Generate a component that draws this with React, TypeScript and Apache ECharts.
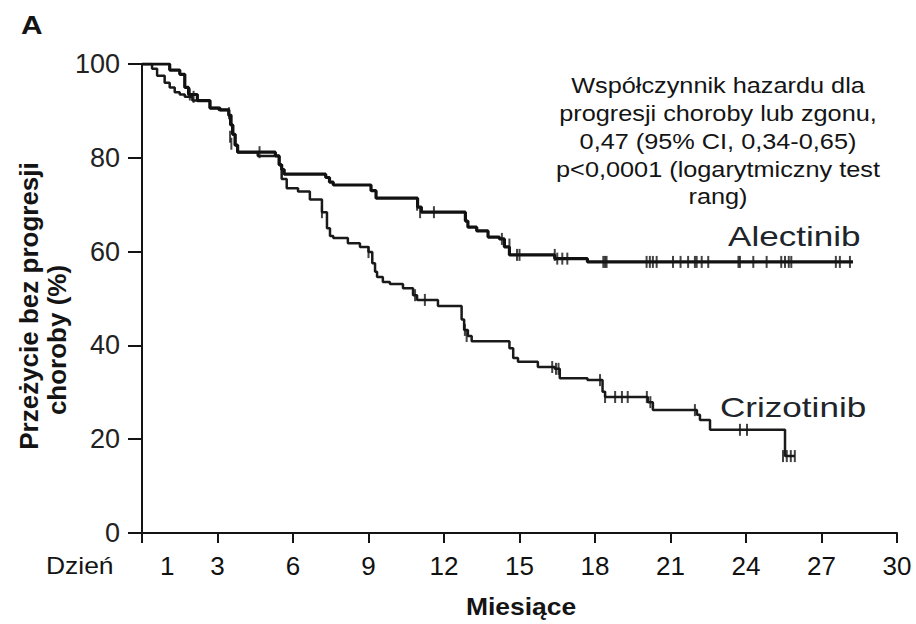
import React, { useEffect, useRef } from 'react';
import * as echarts from 'echarts';

// Kaplan-Meier steps: [month, % progression-free]
const alectinibSteps: [number, number][] = [
  [0, 100], [1.1, 98.7], [1.5, 97.8], [1.7, 95], [1.85, 93.5], [2.2, 92.2], [2.7, 90.6], [3.1, 90.2],
  [3.45, 89], [3.52, 87], [3.6, 85], [3.7, 82.7], [3.8, 81.2], [5.3, 80.4], [5.45, 78.5], [5.55, 77.5],
  [5.65, 76.5], [7.3, 75.8], [7.45, 74.8], [7.6, 74.2], [9.1, 73], [9.3, 71.4], [10.95, 69.5], [11.1, 68.4],
  [12.85, 66.5], [12.95, 65.2], [13.3, 64.4], [13.75, 63.1], [14.2, 62.7], [14.4, 61], [14.6, 59.3],
  [16.4, 58.5], [17.7, 57.8], [28.25, 57.8],
];

const crizotinibSteps: [number, number][] = [
  [0, 100], [0.4, 99], [0.6, 97.5], [0.9, 96], [1.1, 95], [1.3, 94], [1.5, 93.5], [1.7, 93], [2.0, 92.2],
  [2.7, 90.6], [3.05, 90.2], [3.45, 89.1], [3.55, 87], [3.62, 85], [3.7, 82.7], [3.8, 81.2], [4.6, 80.4],
  [5.45, 78.5], [5.55, 75.5], [5.75, 73.5], [6.2, 72.8], [6.67, 71.1], [7.15, 68.4], [7.35, 65], [7.47, 63.3],
  [7.6, 62.9], [8.18, 61.8], [8.66, 61], [9.0, 59.9], [9.15, 57.5], [9.26, 55.7], [9.34, 54.6], [9.57, 53.5],
  [9.85, 53.1], [10.37, 52.2], [10.77, 50.7], [10.93, 49.7], [11.76, 48.4], [12.7, 45.5], [12.8, 43.3],
  [12.95, 42], [13.1, 40.9], [14.6, 39.4], [14.75, 37.3], [14.94, 36.5], [15.73, 35.4], [16.4, 35],
  [16.6, 33], [17.7, 32.6], [18.3, 30.1], [18.4, 29], [20.1, 27.9], [20.3, 26.2], [22.05, 25.2],
  [22.17, 24.1], [22.57, 22], [25.55, 16.4], [25.94, 16.4],
];

const alectinibCensored: [number, number][] = [
  [1.7, 96.5], [1.9, 93.5], [2.05, 93], [3.46, 89.5], [3.5, 84.5], [3.55, 83], [4.67, 81.2],
  [10.93, 70], [11.05, 68.4], [11.6, 68.4], [14.3, 62.7], [14.6, 61.5], [14.9, 59.3], [15.0, 59.3],
  [16.4, 59.3], [16.5, 58.5], [16.7, 58.5], [16.9, 58.5], [18.33, 57.8], [18.4, 57.8], [18.46, 57.8],
  [20.05, 57.8], [20.18, 57.8], [20.3, 57.8], [20.45, 57.8], [21.1, 57.8], [21.4, 57.8], [21.7, 57.8],
  [21.97, 57.8], [22.04, 57.8], [22.24, 57.8], [22.5, 57.8], [23.7, 57.8], [23.76, 57.8], [24.29, 57.8],
  [24.82, 57.8], [25.4, 57.8], [25.55, 57.8], [25.7, 57.8], [25.8, 57.8], [27.57, 57.8], [27.73, 57.8],
  [28.13, 57.8],
];

const crizotinibCensored: [number, number][] = [
  [7.15, 68.4], [9.0, 59.9], [10.85, 50.7], [11.24, 49.7], [12.83, 43.3], [12.9, 42], [16.3, 35.4],
  [16.45, 35], [16.55, 35], [18.2, 32.6], [18.4, 29], [18.8, 29], [19.07, 29], [19.3, 29], [20.06, 29],
  [20.2, 27.9], [21.97, 26.2], [23.76, 22], [24.04, 22], [25.47, 16.4], [25.62, 16.4], [25.78, 16.4],
  [25.94, 16.4],
];

const xTickValues = [0, 3, 6, 9, 12, 15, 18, 21, 24, 27, 30];
const xLabelValues = [1, 3, 6, 9, 12, 15, 18, 21, 24, 27, 30];
const yTickStep = 20;

const annotationLines = [
  'Współczynnik hazardu dla',
  'progresji choroby lub zgonu,',
  '0,47 (95% CI, 0,34-0,65)',
  'p<0,0001 (logarytmiczny test',
  'rang)',
];
const seriesNames = ['Alectinib', 'Crizotinib'];
const yAxisTitle = ['Przeżycie bez progresji', 'choroby (%)'];
const xAxisTitle = 'Miesiące';
const dayLabel = 'Dzień';
const panelLabel = 'A';

export default function App() {
  const ref = useRef<HTMLDivElement>(null);
  useEffect(() => {
    if (!ref.current) return;
    const chart = echarts.init(ref.current, null, { renderer: 'svg' });
    const F = 'Arial, "Liberation Sans", Helvetica, sans-serif';
    const ink = '#141414';
    const SX = 1.15;
    const txt = (text: string, x: number, y: number, font: string, align: string, extra: any = {}) => ({
      type: 'text',
      x,
      y,
      scaleX: SX,
      silent: true,
      ...extra,
      style: {
        text,
        font,
        fill: extra.fill || ink,
        textAlign: align,
        align,
        textVerticalAlign: 'middle',
        verticalAlign: 'middle',
      },
    });
    const rotTxt = (text: string, x: number, y: number) => ({
      type: 'text', x, y, rotation: Math.PI / 2, silent: true,
      style: {
        text, font: `bold 26px ${F}`, fill: ink,
        textAlign: 'center', align: 'center', textVerticalAlign: 'middle', verticalAlign: 'middle',
      },
    });
    const graphic: any[] = [
      txt(panelLabel, 21, 25, `bold 26px ${F}`, 'left'),
      ...annotationLines.map((l, i) => txt(l, 718, 86 + i * 27.7, `22px ${F}`, 'center')),
      txt(seriesNames[0], 728, 237, `27px ${F}`, 'left', { fill: '#20242b', scaleX: 1.3 }),
      txt(seriesNames[1], 720, 408, `27px ${F}`, 'left', { fill: '#20242b', scaleX: 1.3 }),
      txt(dayLabel, 46, 566, `23px ${F}`, 'left'),
      txt(xAxisTitle, 521, 607, `bold 23px ${F}`, 'center'),
      rotTxt(yAxisTitle[0], 29, 306),
      rotTxt(yAxisTitle[1], 57, 340),
    ];
    const option: any = {
      animation: false,
      backgroundColor: '#fff',
      grid: { left: 142, right: 19, top: 64, bottom: 91, containLabel: false, outerBoundsMode: 'none' },
      xAxis: {
        type: 'value', min: 0, max: 30, interval: 3,
        axisLine: { show: true, lineStyle: { color: ink, width: 2 } },
        axisTick: { show: true, length: 10, lineStyle: { color: ink, width: 2 }, customValues: xTickValues },
        axisLabel: {
          show: true, customValues: xLabelValues, margin: 20,
          fontFamily: F, fontSize: 26, color: '#111',
          formatter: (v: number) => (v === 0 ? '' : String(v)),
        },
        splitLine: { show: false },
      },
      yAxis: {
        type: 'value', min: 0, max: 100, interval: yTickStep,
        axisLine: { show: true, lineStyle: { color: ink, width: 2 } },
        axisTick: { show: true, inside: false, length: 14, lineStyle: { color: ink, width: 2 } },
        axisLabel: { show: true, margin: 22, fontFamily: F, fontSize: 27, color: '#222' },
        splitLine: { show: false },
      },
      graphic,
      series: [
        {
          name: seriesNames[0], type: 'line', step: 'end', data: alectinibSteps, showSymbol: false,
          lineStyle: { color: '#111', width: 3.2 }, z: 3, silent: true,
        },
        {
          name: seriesNames[1], type: 'line', step: 'end', data: crizotinibSteps, showSymbol: false,
          lineStyle: { color: '#1a1a1a', width: 2.5 }, z: 2, silent: true,
        },
        {
          name: seriesNames[0] + ' censored', type: 'scatter', data: alectinibCensored,
          symbol: 'rect', symbolSize: [2, 12], itemStyle: { color: '#151515' }, z: 4, silent: true,
        },
        {
          name: seriesNames[1] + ' censored', type: 'scatter', data: crizotinibCensored,
          symbol: 'rect', symbolSize: [2, 12], itemStyle: { color: '#151515' }, z: 4, silent: true,
        },
      ],
    };
    chart.setOption(option);
    return () => chart.dispose();
  }, []);
  return (
    <div
      ref={ref}
      style={{ position: 'absolute', left: 0, top: 0, width: 916, height: 624, background: '#fff' }}
    />
  );
}
